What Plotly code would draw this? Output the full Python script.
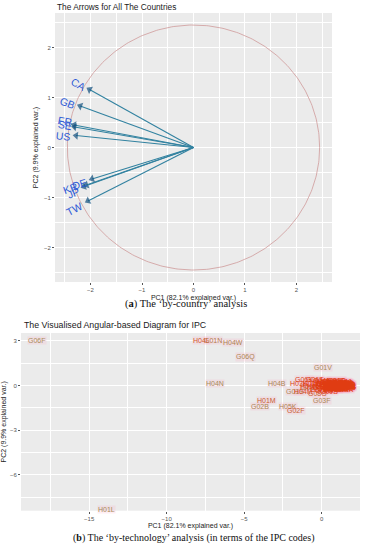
import numpy as np
import plotly.graph_objects as go
from plotly.colors import sample_colorscale

# ---------------- Panel (a): arrows by country ----------------
countries = ["CA", "GB", "FR", "SE", "US", "KR", "DE", "JP", "TW"]
pc1_country = [-2.02, -2.20, -2.32, -2.31, -2.28, -2.08, -1.97, -2.13, -2.05]
pc2_country = [1.16, 0.83, 0.45, 0.41, 0.24, -0.75, -0.63, -0.78, -1.07]
label_pc1 = [-2.24, -2.44, -2.50, -2.50, -2.52, -2.39, -2.22, -2.34, -2.32]
label_pc2 = [1.27, 0.90, 0.53, 0.45, 0.24, -0.81, -0.72, -0.90, -1.23]
circle_radius = 2.45
ticks_a = [-2, -1, 0, 1, 2]

# ---------------- Panel (b): IPC codes ----------------
ipc_codes = ["G06F", "H04L", "G01N", "H04W", "G06Q", "G01V", "H04N", "H04B",
             "H01M", "G02B", "H05K", "G02F", "G03F", "H01L",
             "G06K", "G06T", "H03K", "G01S", "H04M", "G08G", "G01R", "H01Q",
             "H02J", "H01R", "G05B", "H03M", "G11C", "H02M", "H04R", "G09G",
             "H01J", "H01S", "G03B", "G10L", "H05B", "H02P", "G11B", "G07F", "G08B",
             "G01B", "G01C", "G01D", "G01F", "G01J", "G01K", "G01L", "G01M",
             "H01B", "H01G", "H01H", "H03H", "H03F", "H04S", "H04Q", "H04H", "H04J",
             "G05D", "G07C", "G09B", "G10K", "G21C", "H02H", "H01P", "H03L",
             "G06G", "H02N", "G04F", "G07D", "H02K", "G04G", "H01F", "G06N",
             "H03B", "H03D", "H03G", "H03J", "G12B", "G21F", "H05F", "H05H",
             "G01H", "G01P", "G01Q", "G01W", "G02C", "G03C", "G03G", "G03H",
             "G04B", "G04C", "G05F", "G05G", "G06E", "G06J", "G06M", "G07B",
             "G07G", "G08C", "G09C", "G09F", "G10H", "H01C", "H01T", "H02B",
             "H02G", "H03C", "H04K", "H05G", "G21K", "H01K"]
ipc_pc1 = [-18.4, -7.75, -7.0, -5.75, -4.9, 0.06, -6.9, -2.9,
           -3.55, -4.0, -2.15, -1.66, 0.0, -13.9,
           -1.15, -0.45, -1.45, -1.75, -1.2, -0.3, -0.75, -0.15,
           0.1, 0.3, 0.5, 0.7, 0.9, 1.1, 1.3, 1.5,
           -0.1, 0.2, 0.4, 0.6, 0.8, 1.0, 1.2, 1.4, 1.55,
           0.0, 0.25, 0.45, 0.65, 0.85, 1.05, 1.25, 1.45,
           -0.4, -0.6, -0.8, 0.3, 0.55, 0.75, 0.95, 1.15, 1.35,
           0.15, -0.15, 0.45, 1.6, 1.6, 1.45, 1.55, 1.6,
           1.5, 1.4, 0.0, 1.0, 1.5, 1.6, 1.6, 1.55,
           1.2, 1.35, 0.9, 1.1, 1.5, 1.3, 0.7, 1.45,
           0.5, 0.65, 0.8, 0.95, 1.1, 1.25, 1.4, 1.55,
           0.55, 0.7, 0.85, 1.0, 1.15, 1.3, 1.45, 1.6,
           0.6, 0.75, 0.9, 1.05, 1.2, 1.35, 1.5, 1.6,
           0.4, 0.8, 1.2, 1.4, 1.0, 1.3]
ipc_pc2 = [3.0, 3.0, 3.0, 2.9, 1.9, 1.2, 0.15, 0.15,
           -1.04, -1.38, -1.38, -1.71, -1.04, -8.3,
           0.40, 0.38, 0.12, -0.38, -0.42, -0.55, -0.15, 0.25,
           0.2, 0.15, 0.22, 0.18, 0.12, 0.2, 0.15, 0.1,
           0.05, 0.0, 0.05, -0.02, 0.04, -0.03, 0.02, -0.05, -0.02,
           -0.12, -0.2, -0.1, -0.18, -0.12, -0.2, -0.1, -0.15,
           -0.05, 0.1, -0.08, 0.3, 0.3, -0.28, 0.3, -0.3, 0.25,
           -0.35, -0.3, -0.38, 0.0, -0.08, 0.12, 0.05, -0.05,
           -0.2, 0.18, 0.35, 0.35, -0.25, -0.12, 0.08, 0.0,
           -0.1, 0.1, -0.15, 0.05, -0.05, -0.18, 0.12, 0.2,
           0.08, -0.06, 0.1, -0.08, 0.06, -0.1, 0.04, -0.12,
           -0.02, 0.02, -0.04, 0.06, -0.06, 0.0, 0.1, -0.08,
           0.14, -0.14, 0.0, 0.08, -0.02, 0.16, -0.1, 0.04,
           -0.22, -0.24, -0.22, 0.18, 0.22, -0.2]
ipc_weight = [0.0, 0.7, 0.2, 0.1, 0.05, 0.0, 0.0, 0.05,
              0.55, 0.05, 0.1, 0.55, 0.05, 0.0,
              0.9, 0.9, 0.9, 0.05, 0.85, 0.6, 0.1, 0.9] + [1.0] * 92
ticks_b_x = [-15, -10, -5, 0]
ticks_b_y = [3, 0, -3, -6]

label_colors = sample_colorscale([[0, "#a88b5a"], [1, "#e03c12"]], ipc_weight)

fig = go.Figure()

# circle
theta = np.linspace(0, 2 * np.pi, 361)
fig.add_trace(go.Scatter(x=circle_radius * np.cos(theta), y=circle_radius * np.sin(theta),
                         mode="lines", line=dict(color="rgba(205,150,150,0.75)", width=1),
                         hoverinfo="skip", xaxis="x", yaxis="y"))

# arrows
for cx, cy in zip(pc1_country, pc2_country):
    fig.add_trace(go.Scatter(x=[0, cx], y=[0, cy], mode="lines+markers",
                             line=dict(color="#3282a0", width=1.1),
                             marker=dict(symbol="triangle-up", size=[0, 7], angleref="previous",
                                         color="#0f4f7e", line=dict(width=0)),
                             hoverinfo="skip", xaxis="x", yaxis="y"))

annotations = []
for name, lx, ly, cx, cy in zip(countries, label_pc1, label_pc2, pc1_country, pc2_country):
    ang = -np.degrees(np.arctan(cy / cx))
    annotations.append(dict(x=lx, y=ly, xref="x", yref="y", text=name, showarrow=False,
                            textangle=ang, font=dict(size=10.5, color="#2e5ad6", family="Liberation Sans")))

# pale pink label boxes first, then the label texts on top
for code, x, y in zip(ipc_codes, ipc_pc1, ipc_pc2):
    annotations.append(dict(x=x, y=y, xref="x2", yref="y2", text=code, showarrow=False,
                            font=dict(size=7, color="rgba(0,0,0,0)", family="Liberation Sans"),
                            bgcolor="rgba(255,160,190,0.18)", borderpad=0))
for code, x, y, c in zip(ipc_codes, ipc_pc1, ipc_pc2, label_colors):
    annotations.append(dict(x=x, y=y, xref="x2", yref="y2", text=code, showarrow=False,
                            font=dict(size=7, color=c, family="Liberation Sans")))

# titles and captions
annotations += [
    dict(x=55 / 367, y=1 - 7 / 550, xref="paper", yref="paper", xanchor="left", yanchor="middle",
         text="The Arrows for All The Countries", showarrow=False,
         font=dict(size=8.3, color="#1a1a1a", family="Liberation Sans")),
    dict(x=21.5 / 367, y=1 - 325 / 550, xref="paper", yref="paper", xanchor="left", yanchor="middle",
         text="The Visualised Angular-based Diagram for IPC", showarrow=False,
         font=dict(size=8.8, color="#1a1a1a", family="Liberation Sans")),
    dict(x=186 / 367, y=1 - 304 / 550, xref="paper", yref="paper", xanchor="center", yanchor="middle",
         text="(<b>a</b>) The ‘by-country’ analysis", showarrow=False,
         font=dict(size=10.5, color="#111", family="Liberation Serif")),
    dict(x=194 / 367, y=1 - 538 / 550, xref="paper", yref="paper", xanchor="center", yanchor="middle",
         text="(<b>b</b>) The ‘by-technology’ analysis (in terms of the IPC codes)", showarrow=False,
         font=dict(size=10, color="#111", family="Liberation Serif")),
]

axis_common = dict(showgrid=True, gridcolor="white", gridwidth=1, zeroline=False, showline=False,
                   ticks="outside", ticklen=2, tickcolor="#555", tickwidth=0.6,
                   tickfont=dict(size=6, color="#555", family="Liberation Sans"))
title_font = dict(size=7, color="#222", family="Liberation Sans")

fig.update_layout(
    width=367, height=550, margin=dict(l=0, r=0, t=0, b=0),
    paper_bgcolor="white", plot_bgcolor="#EBEBEB", showlegend=False,
    annotations=annotations,
    xaxis=dict(domain=[55 / 367, 332 / 367], range=[-2.69, 2.69], tickvals=ticks_a, anchor="y",
               minor=dict(showgrid=True, gridcolor="white", gridwidth=0.5, dtick=0.5, tick0=0),
               title=dict(text="PC1 (82.1% explained var.)", font=title_font, standoff=2),
               **axis_common),
    yaxis=dict(domain=[1 - 282 / 550, 1 - 13 / 550], range=[-2.69, 2.69], tickvals=ticks_a, anchor="x",
               minor=dict(showgrid=True, gridcolor="white", gridwidth=0.5, dtick=0.5, tick0=0),
               title=dict(text="PC2 (9.9% explained var.)", font=title_font, standoff=4),
               **axis_common),
    xaxis2=dict(domain=[21 / 367, 360 / 367], range=[-19.4, 2.47], tickvals=ticks_b_x, anchor="y2",
                minor=dict(showgrid=True, gridcolor="white", gridwidth=0.5, dtick=2.5, tick0=0),
                title=dict(text="PC1 (82.1% explained var.)", font=title_font, standoff=2),
                **axis_common),
    yaxis2=dict(domain=[1 - 510.7 / 550, 1 - 333 / 550], range=[-8.4, 3.52], tickvals=ticks_b_y, anchor="x2",
                minor=dict(showgrid=True, gridcolor="white", gridwidth=0.5, dtick=1.5, tick0=0),
                title=dict(text="PC2 (9.9% explained var.)", font=title_font, standoff=4),
                **axis_common),
)

fig.write_html("out.html", config={"displayModeBar": False},
               post_script="document.body.style.margin='0';document.body.style.overflow='hidden';")
